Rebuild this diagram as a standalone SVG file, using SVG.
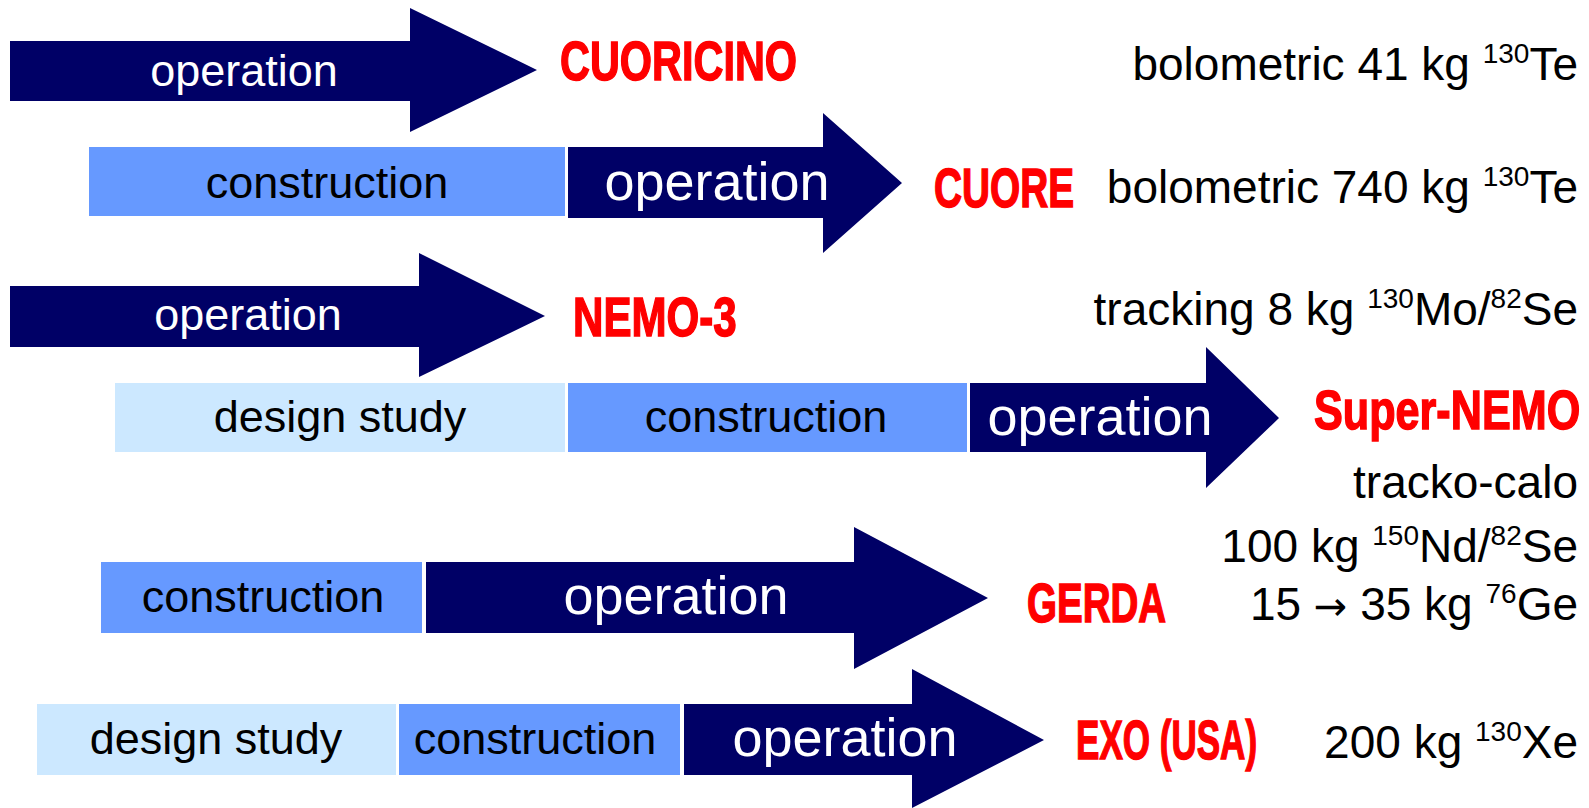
<svg xmlns="http://www.w3.org/2000/svg" width="1589" height="808" viewBox="0 0 1589 808">
<style>
.op{fill:#000066}
.cn{fill:#6699FF}
.ds{fill:#CCE8FF}
.wt{font-family:"Liberation Sans",Arial,sans-serif;fill:#FFFFFF;text-anchor:middle}
.bt{font-family:"Liberation Sans",Arial,sans-serif;fill:#000000;text-anchor:middle;font-size:45px}
.rl{font-family:"Liberation Sans",Arial,sans-serif;font-weight:bold;fill:#FF0000;stroke:#FF0000;stroke-width:1.5px;font-size:56px}
.rt{font-family:"Liberation Sans",Arial,sans-serif;fill:#000000;text-anchor:end;font-size:46px}
</style>
<rect width="1589" height="808" fill="#FFFFFF"/>
<g id="cuoricino">
<polygon class="op" points="10,41 410,41 410,8 537,70 410,132 410,101 10,101"/>
<text class="wt" x="244" y="86" font-size="45">operation</text>
<text class="rl" transform="translate(560,80) scale(0.74,1)">CUORICINO</text>
<text class="rt" x="1578" y="80">bolometric 41 kg <tspan font-size="28" dy="-17">130</tspan><tspan dy="17">Te</tspan></text>
</g>
<g id="cuore">
<rect class="cn" x="89" y="147" width="476" height="69"/>
<polygon class="op" points="568,147 823,147 823,113 902,183 823,253 823,218 568,218"/>
<text class="bt" x="327" y="198">construction</text>
<text class="wt" x="717" y="200" font-size="54">operation</text>
<text class="rl" transform="translate(934,207) scale(0.693,1)">CUORE</text>
<text class="rt" x="1578" y="203">bolometric 740 kg <tspan font-size="28" dy="-17">130</tspan><tspan dy="17">Te</tspan></text>
</g>
<g id="nemo3">
<polygon class="op" points="10,286 419,286 419,253 545,316 419,377 419,347 10,347"/>
<text class="wt" x="248" y="330" font-size="45">operation</text>
<text class="rl" transform="translate(573,336) scale(0.752,1)">NEMO-3</text>
<text class="rt" x="1578" y="325">tracking 8 kg <tspan font-size="28" dy="-17">130</tspan><tspan dy="17">Mo/</tspan><tspan font-size="28" dy="-17">82</tspan><tspan dy="17">Se</tspan></text>
</g>
<g id="supernemo">
<rect class="ds" x="115" y="383" width="450" height="69"/>
<rect class="cn" x="568" y="383" width="399" height="69"/>
<polygon class="op" points="970,383 1206,383 1206,347 1279,418 1206,488 1206,452 970,452"/>
<text class="bt" x="340" y="432">design study</text>
<text class="bt" x="766" y="432">construction</text>
<text class="wt" x="1100" y="435" font-size="54">operation</text>
<text class="rl" transform="translate(1314,429) scale(0.771,1)">Super-NEMO</text>
<text class="rt" x="1578" y="498">tracko-calo</text>
<text class="rt" x="1578" y="562">100 kg <tspan font-size="28" dy="-17">150</tspan><tspan dy="17">Nd/</tspan><tspan font-size="28" dy="-17">82</tspan><tspan dy="17">Se</tspan></text>
</g>
<g id="gerda">
<rect class="cn" x="101" y="562" width="321" height="71"/>
<polygon class="op" points="426,562 854,562 854,527 988,598 854,669 854,633 426,633"/>
<text class="bt" x="263" y="612">construction</text>
<text class="wt" x="676" y="614" font-size="54">operation</text>
<text class="rl" transform="translate(1027,622) scale(0.688,1)">GERDA</text>
<text class="rt" x="1578" y="620">15 <tspan font-family="'DejaVu Sans',sans-serif" font-size="40">→</tspan> 35 kg <tspan font-size="28" dy="-17">76</tspan><tspan dy="17">Ge</tspan></text>
</g>
<g id="exo">
<rect class="ds" x="37" y="704" width="359" height="71"/>
<rect class="cn" x="399" y="704" width="281" height="71"/>
<polygon class="op" points="684,704 912,704 912,669 1044,740 912,808 912,775 684,775"/>
<text class="bt" x="216" y="754">design study</text>
<text class="bt" x="535" y="754">construction</text>
<text class="wt" x="845" y="756" font-size="54">operation</text>
<text class="rl" transform="translate(1076,759) scale(0.626,1)">EXO (USA)</text>
<text class="rt" x="1578" y="758">200 kg <tspan font-size="28" dy="-17">130</tspan><tspan dy="17">Xe</tspan></text>
</g>
<g id="connectors"></g>
</svg>
